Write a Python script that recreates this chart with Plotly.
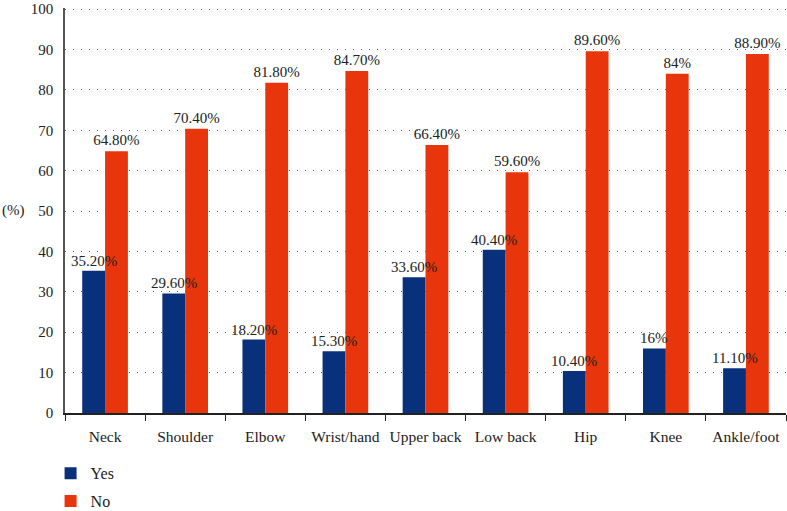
import plotly.graph_objects as go

categories = ["Neck", "Shoulder", "Elbow", "Wrist/hand", "Upper back", "Low back", "Hip", "Knee", "Ankle/foot"]
yes_vals = [35.2, 29.6, 18.2, 15.3, 33.6, 40.4, 10.4, 16, 11.1]
no_vals = [64.8, 70.4, 81.8, 84.7, 66.4, 59.6, 89.6, 84, 88.9]
yes_labels = ["35.20%", "29.60%", "18.20%", "15.30%", "33.60%", "40.40%", "10.40%", "16%", "11.10%"]
no_labels = ["64.80%", "70.40%", "81.80%", "84.70%", "66.40%", "59.60%", "89.60%", "84%", "88.90%"]
y_ticks = [0, 10, 20, 30, 40, 50, 60, 70, 80, 90, 100]

FONT = "Liberation Serif"
BARGAP = 0.43

fig = go.Figure()
fig.add_trace(go.Bar(
    x=categories, y=yes_vals, name="Yes",
    marker=dict(color="#08307b", line=dict(width=0)),
    legendgroup="a",
))
fig.add_trace(go.Bar(
    x=categories, y=no_vals, name="No", text=no_labels,
    textposition="outside", cliponaxis=False, constraintext="none",
    marker=dict(color="#e8350b", line=dict(width=0)),
    textfont=dict(family=FONT, size=15, color="#222"),
    legendgroup="b",
))

plot_w = 787 - 65 - 1
half_bar = plot_w / len(categories) * (1 - BARGAP) / 4
for c, v, t in zip(categories, yes_vals, yes_labels):
    fig.add_annotation(
        x=c, y=v, text=t, xref="x", yref="y", showarrow=False,
        xanchor="center", yanchor="bottom", xshift=-half_bar, yshift=0,
        font=dict(family=FONT, size=15, color="#222"),
    )

fig.update_layout(
    width=787, height=511,
    margin=dict(l=65, r=1, t=8, b=98, autoexpand=False),
    paper_bgcolor="white", plot_bgcolor="white",
    barmode="group", bargap=BARGAP, bargroupgap=0,
    font=dict(family=FONT, size=15, color="#222"),
    showlegend=True,
    legend=dict(x=-0.02, xanchor="left", y=-0.107, yanchor="top",
                orientation="v", tracegroupgap=4,
                font=dict(family=FONT, size=16, color="#222")),
)
fig.update_xaxes(
    showline=True, linecolor="#222", linewidth=1.5,
    ticks="outside", tickson="boundaries", ticklen=6, tickcolor="#222",
    showgrid=False, automargin=False, ticklabelstandoff=9, tickangle=0,
    tickfont=dict(family=FONT, size=15.5, color="#222"),
)
fig.update_yaxes(
    range=[0, 100.3], tickvals=y_ticks,
    showline=True, linecolor="#555", linewidth=1.5,
    showgrid=True, gridcolor="#666", gridwidth=1, griddash="1px,7px",
    zeroline=False, ticks="", automargin=False, ticklabelstandoff=7,
    tickfont=dict(family=FONT, size=15, color="#222"),
)
fig.add_annotation(
    text="(%)", xref="paper", yref="paper", x=-0.09, y=0.5,
    xanchor="left", yanchor="middle", showarrow=False,
    font=dict(family=FONT, size=15, color="#222"),
)

fig.write_html(
    "out.html",
    config={"displayModeBar": False},
    post_script="document.body.style.margin='0';document.body.style.overflow='hidden';",
)
